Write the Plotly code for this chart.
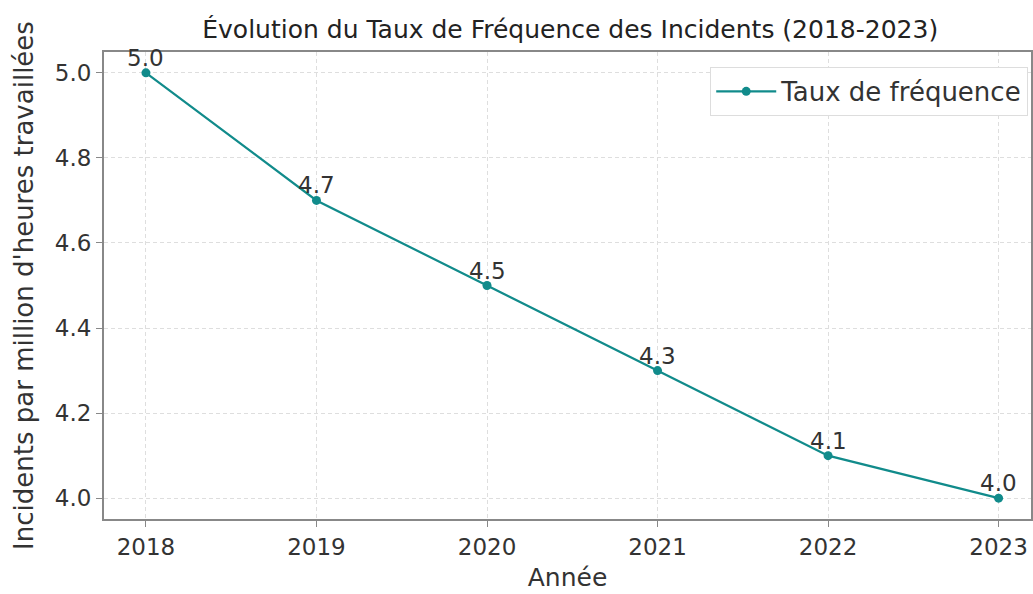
import plotly.graph_objects as go

annees = [2018, 2019, 2020, 2021, 2022, 2023]
taux = [5.0, 4.7, 4.5, 4.3, 4.1, 4.0]
y_ticks = [4.0, 4.2, 4.4, 4.6, 4.8, 5.0]

teal = "#118b8b"
font = "DejaVu Sans"
txt = "#333333"

fig = go.Figure()
fig.add_trace(go.Scatter(
    x=annees, y=taux, mode="lines+markers", name="Taux de fréquence",
    line=dict(color=teal, width=2.2), marker=dict(size=9, color=teal)))

for a, t in zip(annees, taux):
    fig.add_annotation(x=a, y=t, text=f"{t:.1f}", showarrow=False,
                       yanchor="bottom", yshift=0,
                       font=dict(family=font, size=23, color=txt))

axis_common = dict(
    showline=True, mirror=True, linecolor="#888888", linewidth=2,
    showgrid=True, gridcolor="#dedede", griddash="4px,3px", gridwidth=1,
    ticks="outside", ticklen=6, tickcolor="#888888",
    tickfont=dict(family=font, size=23, color=txt),
    zeroline=False, automargin=False)

fig.update_xaxes(range=[2017.754, 2023.19], tickvals=annees,
                 title=dict(text="Année", font=dict(family=font, size=25, color=txt), standoff=10),
                 **axis_common)
fig.update_yaxes(range=[3.951, 5.049], tickvals=y_ticks, tickformat=".1f",
                 title=dict(text="Incidents par million d'heures travaillées",
                            font=dict(family=font, size=26, color=txt), standoff=14),
                 **axis_common)

fig.update_layout(
    width=1033, height=594,
    margin=dict(l=104, r=2, t=52, b=75),
    paper_bgcolor="white", plot_bgcolor="white",
    title=dict(text="Évolution du Taux de Fréquence des Incidents (2018-2023)",
               x=0.552, xanchor="center", y=0.95, yanchor="middle",
               font=dict(family=font, size=25, color="#222222")),
    legend=dict(x=0.997, y=0.968, xanchor="right", yanchor="top",
                bgcolor="white", bordercolor="#dddddd", borderwidth=1,
                itemwidth=60,
                font=dict(family=font, size=26, color=txt)),
    showlegend=True,
)

fig.write_html("out.html", config={"displayModeBar": False},
               post_script="document.body.style.margin='0';")
